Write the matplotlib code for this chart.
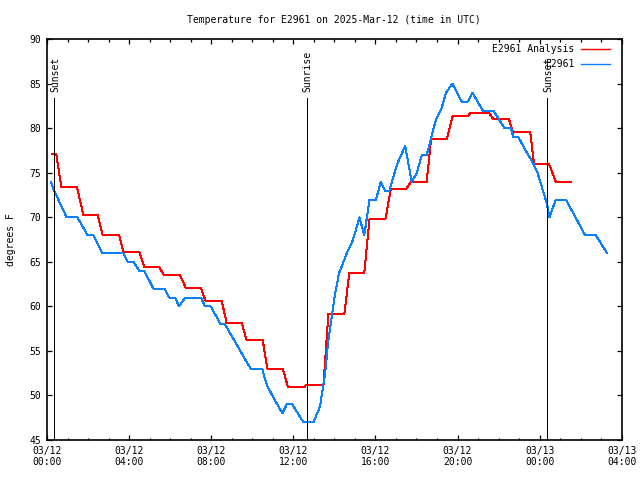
import matplotlib
matplotlib.use("Agg")
import matplotlib.pyplot as plt

# hours since 03/12 00:00 UTC
analysis_hours = [0.23, 0.45, 0.70, 1.46, 1.77, 2.47, 2.71, 3.52, 3.72, 4.50,
                  4.74, 5.47, 5.70, 6.48, 6.76, 7.49, 7.73, 8.51, 8.76, 9.49,
                  9.73, 10.51, 10.74, 11.49, 11.73, 12.57, 12.62, 13.47, 13.71, 14.49,
                  14.73, 15.46, 15.71, 16.49, 16.75, 17.50, 17.74, 18.50, 18.71, 19.48,
                  19.77, 20.53, 20.61, 21.55, 21.75, 22.51, 22.70, 23.54, 23.73, 24.46,
                  24.79, 25.52]
analysis_temp = [77.1, 77.1, 73.4, 73.4, 70.3, 70.3, 68.0, 68.0, 66.1, 66.1,
                 64.4, 64.4, 63.5, 63.5, 62.1, 62.1, 60.6, 60.6, 58.1, 58.1,
                 56.2, 56.2, 53.0, 53.0, 51.0, 51.0, 51.2, 51.2, 59.2, 59.2,
                 63.8, 63.8, 69.8, 69.8, 73.2, 73.2, 74.0, 74.0, 78.8, 78.8,
                 81.4, 81.4, 81.7, 81.7, 81.0, 81.0, 79.6, 79.6, 76.0, 76.0,
                 74.0, 74.0]

obs_hours = [0.18, 0.35, 0.55, 0.75, 0.96, 1.48, 1.73, 1.98, 2.26, 2.48,
             2.69, 3.72, 3.93, 4.21, 4.50, 4.74, 4.96, 5.18, 5.72, 5.95,
             6.24, 6.43, 6.73, 7.50, 7.70, 7.98, 8.22, 8.46, 8.67, 8.92,
             9.17, 9.42, 9.67, 9.93, 10.49, 10.60, 10.74, 10.98, 11.22, 11.47,
             11.68, 11.95, 12.22, 12.49, 12.98, 13.30, 13.55, 13.71, 13.90, 14.04,
             14.23, 14.36, 14.61, 14.85, 15.01, 15.22, 15.46, 15.71, 16.03, 16.26,
             16.47, 16.68, 17.06, 17.45, 17.77, 18.02, 18.26, 18.50, 18.95, 19.23,
             19.44, 19.75, 20.21, 20.50, 20.73, 21.23, 21.75, 22.29, 22.61, 22.72,
             22.97, 23.20, 23.45, 23.70, 23.90, 24.35, 24.48, 24.79, 25.28, 26.22,
             26.74, 27.28]
obs_temp = [74, 73, 72, 71, 70, 70, 69, 68, 68, 67,
            66, 66, 65, 65, 64, 64, 63, 62, 62, 61,
            61, 60, 61, 61, 60, 60, 59, 58, 58, 57,
            56, 55, 54, 53, 53, 52, 51, 50, 49, 48,
            49, 49, 48, 47, 47, 48.75, 52.5, 56.25, 59.25, 61.5,
            63.75, 64.5, 66, 67.1, 68.25, 70, 68, 72, 72, 74,
            73, 73, 76, 78, 74, 75, 77, 77, 81, 82.3,
            84, 85, 83, 83, 84, 82, 82, 80, 80, 79,
            79, 78, 77, 76, 75, 71.6, 70, 72, 72, 68,
            68, 66]

events = ["Sunset", "Sunrise", "Sunset"]
event_hours = [0.35, 12.65, 24.37]

tick_hours = [0, 4, 8, 12, 16, 20, 24, 28]
tick_labels = ["03/12\n00:00", "03/12\n04:00", "03/12\n08:00", "03/12\n12:00",
               "03/12\n16:00", "03/12\n20:00", "03/13\n00:00", "03/13\n04:00"]

plt.rcParams['font.family'] = ['DejaVu Sans Mono']
plt.rcParams['font.size'] = 7

fig = plt.figure(figsize=(6.4, 4.8), dpi=100)
ax = fig.add_axes([47 / 640, 40 / 480, 574.7 / 640, 400.7 / 480])

ax.plot(analysis_hours, analysis_temp, color='#ff0000', lw=0.72,
        label='E2961 Analysis', antialiased=False)
ax.plot(obs_hours, obs_temp, color='#0a80ff', lw=0.72,
        label='E2961', antialiased=False)

for name, h in zip(events, event_hours):
    ax.plot([h, h], [45, 83.4], color='black', lw=0.72, antialiased=False)
    ax.text(h + 0.05, 84.1, name, rotation=90, ha='center', va='bottom')

ax.set_xlim(0, 28)
ax.set_ylim(45, 90)
ax.set_xticks(tick_hours)
ax.set_xticklabels(tick_labels)
ax.set_xticks(range(0, 29), minor=True)
ax.set_yticks(range(45, 91, 5))
ax.tick_params(which='both', direction='in', top=True, right=True)
ax.tick_params(which='major', length=3.3, width=0.9, pad=4)
ax.tick_params(which='minor', length=1.8, width=0.9)
for s in ax.spines.values():
    s.set_linewidth(1.2)

ax.set_ylabel('degrees F', labelpad=10)
ax.set_title('Temperature for E2961 on 2025-Mar-12 (time in UTC)',
             fontsize=7, pad=12)
leg = ax.legend(loc='upper right', bbox_to_anchor=(0.985, 0.995), frameon=False,
                markerfirst=False, handlelength=3.0, labelspacing=0.5,
                borderaxespad=0.0, borderpad=0.3, handletextpad=0.7)
for line in leg.get_lines():
    line.set_linewidth(1.0)

fig.savefig('out.png', dpi=100)
